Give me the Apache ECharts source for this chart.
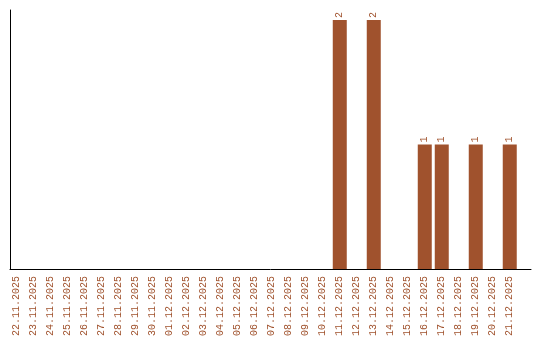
<!DOCTYPE html>
<html>
<head>
<meta charset="utf-8">
<script src="https://cdn.jsdelivr.net/npm/echarts@6/dist/echarts.min.js"></script>
<style>html,body{margin:0;padding:0;background:#fff}#c{width:540px;height:340px}</style>
</head>
<body>
<div id="c"></div>
<script>
const categories = ["22.11.2025","23.11.2025","24.11.2025","25.11.2025","26.11.2025","27.11.2025","28.11.2025","29.11.2025","30.11.2025","01.12.2025","02.12.2025","03.12.2025","04.12.2025","05.12.2025","06.12.2025","07.12.2025","08.12.2025","09.12.2025","10.12.2025","11.12.2025","12.12.2025","13.12.2025","14.12.2025","15.12.2025","16.12.2025","17.12.2025","18.12.2025","19.12.2025","20.12.2025","21.12.2025"];
const counts = [0,0,0,0,0,0,0,0,0,0,0,0,0,0,0,0,0,0,0,2,0,2,0,0,1,1,0,1,0,1];

const brown = '#a0522d';
const chart = echarts.init(document.getElementById('c'), null, {renderer:'canvas'});
const idx = categories.map((_, i) => i);
chart.setOption({
  animation: false,
  grid: {left: 10, right: 9, top: 10, bottom: 71, containLabel: false},
  xAxis: {
    type: 'value', min: -0.4, max: 30.25,
    axisLine: {show: true, onZero: false, lineStyle: {color: '#000', width: 1}},
    axisTick: {show: false},
    splitLine: {show: false},
    axisLabel: {
      customValues: idx, rotate: 90, margin: 7, color: brown,
      fontFamily: 'Liberation Mono', fontSize: 10,
      formatter: v => categories[Math.round(v)] || ''
    }
  },
  yAxis: {
    type: 'value', min: 0, max: 2.08,
    axisLine: {show: true, onZero: false, lineStyle: {color: '#000', width: 1}},
    axisTick: {show: false}, axisLabel: {show: false}, splitLine: {show: false}
  },
  series: [{
    type: 'bar', barWidth: 14,
    itemStyle: {color: brown},
    data: counts.map((v, i) => v > 0 ? [i, v] : [i, null]),
    label: {
      show: true, position: 'top', rotate: 90, distance: 2,
      align: 'left', verticalAlign: 'middle',
      color: brown, fontFamily: 'Liberation Mono', fontSize: 10,
      formatter: p => p.value[1]
    }
  }]
});
</script>
</body>
</html>
